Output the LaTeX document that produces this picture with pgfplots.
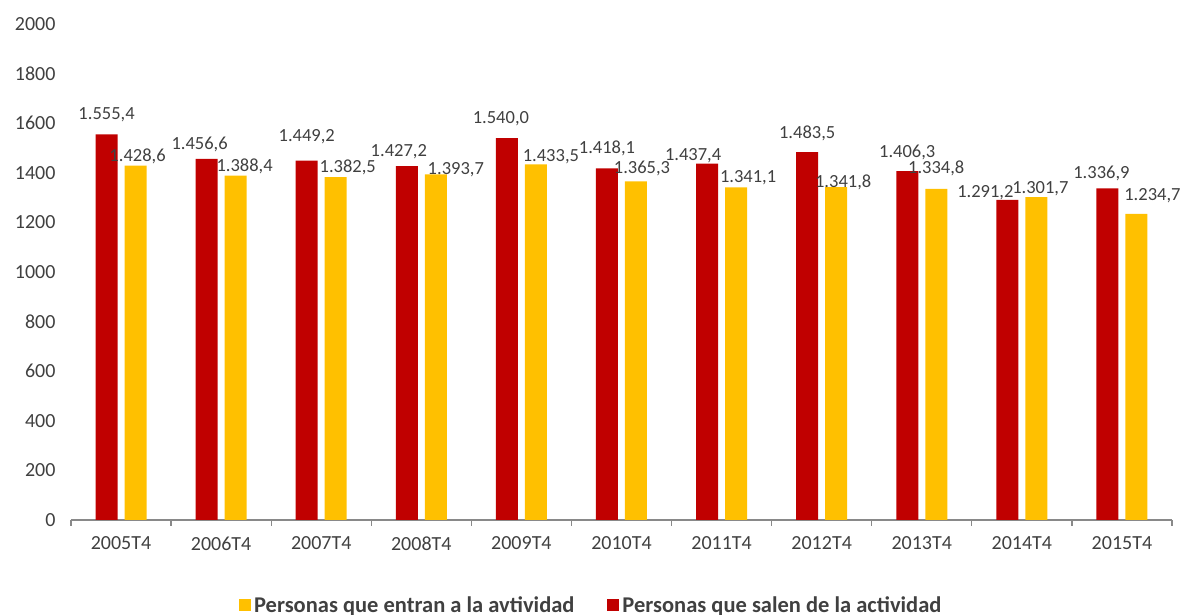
\documentclass[border=0pt]{standalone}
\usepackage{pgfplots}
\pgfplotsset{compat=1.18}
\usepackage{pgfplotstable}
\usepackage{fontspec}
\setmainfont{Carlito}
\definecolor{cred}{HTML}{C00000}
\definecolor{cyel}{HTML}{FFC000}
\definecolor{ctext}{HTML}{404040}
\definecolor{caxis}{HTML}{898989}
\pgfplotsset{sqlegend/.style={legend image code/.code={\fill[##1] (0pt,-6pt) rectangle (12pt,6pt);}}}

\pgfplotstableread{
x red rdx rdy yel ydx ydy
0 1555.4 0 15 1428.6 2 4
1 1456.6 -7 9 1388.4 9 4
2 1449.2 0 19 1382.5 12 5
3 1427.2 -8 10 1393.7 20 0
4 1540.0 -6 15 1433.5 15 3
5 1418.1 0 15 1365.3 6 8
6 1437.4 -14 3 1341.1 12 5
7 1483.5 0 14 1341.8 7 0
8 1406.3 0 14 1334.8 0 15
9 1291.2 -22 2 1301.7 4 4
10 1336.9 -6 10 1234.7 16 13
}\datatab

\begin{document}
\begin{tikzpicture}
\path[use as bounding box] (-71pt,-95pt) rectangle (1113pt,520pt);
\begin{axis}[
  at={(0pt,0pt)}, anchor=south west,
  scale only axis, width=1101pt, height=496pt,
  clip=false,
  xmin=-0.5, xmax=10.5, ymin=0, ymax=2000,
  xtick={0,...,10},
  xticklabels={2005T4,2006T4,2007T4,2008T4,2009T4,2010T4,2011T4,2012T4,2013T4,2014T4,2015T4},
  minor xtick={-0.5,0.5,...,10.5},
  ytick={0,200,...,2000},
  axis x line*=bottom, axis y line*=left,
  x axis line style={draw=caxis, line width=1.2pt, -},
  y axis line style={draw=none},
  major tick length=0pt, minor tick length=6pt,
  tick align=outside,
  minor x tick style={draw=caxis, line width=1.2pt},
  major x tick style={draw=none},
  ytick style={draw=none},
  /pgf/number format/assume math mode=true,
  /pgf/number format/1000 sep={},
  ticklabel style={font=\fontsize{20}{24}\selectfont, text=ctext},
  yticklabel style={xshift=-12pt},
  xticklabel style={yshift=-13pt},
  legend style={at={(0.473,-0.1714)}, anchor=center, draw=none, fill=none,
    legend columns=2, font=\bfseries\fontsize{22.5}{26}\selectfont, text=ctext,
    /tikz/every even column/.append style={column sep=30pt},
    nodes={inner xsep=3pt, inner ysep=2pt}},
]
\addlegendimage{sqlegend, fill=cyel, draw=none}
\addlegendimage{sqlegend, fill=cred, draw=none}
\addplot[ybar, bar width=22pt, bar shift=-14.5pt, fill=cred, draw=none,
  point meta=y,
  nodes near coords={\pgfmathprintnumber[fixed,fixed zerofill,precision=1,use comma,1000 sep={.}]{\pgfplotspointmeta}},
  visualization depends on={\thisrow{rdx}\as\labdx},
  visualization depends on={\thisrow{rdy}\as\labdy},
  nodes near coords style={anchor=base, xshift={\labdx pt-14.5pt}, yshift=\labdy pt, font=\fontsize{18.5}{22}\selectfont, text=ctext, inner sep=0pt}
] table[x=x,y=red]{\datatab};
\addplot[ybar, bar width=22pt, bar shift=14.5pt, fill=cyel, draw=none,
  point meta=y,
  nodes near coords={\pgfmathprintnumber[fixed,fixed zerofill,precision=1,use comma,1000 sep={.}]{\pgfplotspointmeta}},
  visualization depends on={\thisrow{ydx}\as\labdx},
  visualization depends on={\thisrow{ydy}\as\labdy},
  nodes near coords style={anchor=base, xshift={\labdx pt+14.5pt}, yshift=\labdy pt, font=\fontsize{18.5}{22}\selectfont, text=ctext, inner sep=0pt}
] table[x=x,y=yel]{\datatab};
\legend{Personas que entran a la avtividad, Personas que salen de la actividad}
\end{axis}
\end{tikzpicture}
\end{document}
